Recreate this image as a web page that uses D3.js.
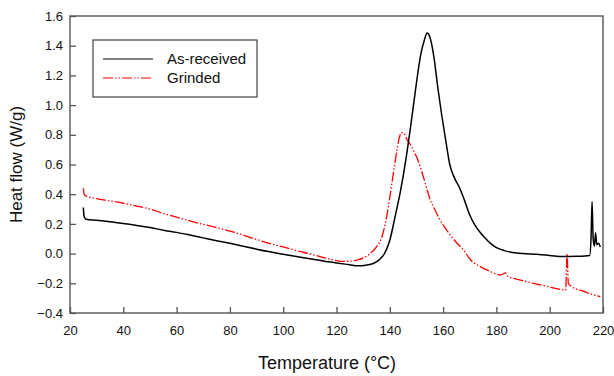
<html>
<head>
<script src="https://d3js.org/d3.v7.min.js"></script>
<style>
  body { margin: 0; background: #fff; }
  text { font-family: "Liberation Sans", Arial, sans-serif; }
</style>
</head>
<body>
<svg id="chart" width="614" height="376"></svg>
<script>
// temperature (°C), heat flow (W/g)
const asReceivedT = [25, 25.3, 26, 30, 35, 40, 45, 50, 55, 60, 65, 70, 75, 80, 85, 90, 95, 100, 105, 110, 115, 120, 125, 128, 131, 134, 136, 138, 140, 142, 144, 146, 148, 150, 151.5, 153, 154, 155, 156.5, 158, 159.5, 161, 162.5, 164, 166, 168, 170, 172, 174, 176, 178, 180, 183, 186, 190, 195, 200, 205, 210, 215, 215.5, 215.9, 216.3, 216.8, 217.2, 217.7, 218.3, 219];
const asReceivedQ = [0.31, 0.25, 0.232, 0.225, 0.215, 0.203, 0.19, 0.175, 0.158, 0.143, 0.125, 0.106, 0.087, 0.069, 0.05, 0.03, 0.012, -0.004, -0.02, -0.035, -0.05, -0.063, -0.075, -0.082, -0.078, -0.065, -0.042, 0.0, 0.09, 0.25, 0.42, 0.63, 0.88, 1.15, 1.33, 1.44, 1.485, 1.46, 1.33, 1.12, 0.93, 0.76, 0.6, 0.52, 0.45, 0.36, 0.26, 0.19, 0.14, 0.1, 0.065, 0.04, 0.02, 0.008, 0.0, -0.005, -0.012, -0.02, -0.018, -0.012, 0.1, 0.35, 0.1, 0.05, 0.14, 0.06, 0.07, 0.045];

const grindedT = [25, 25.3, 26, 30, 35, 40, 45, 50, 55, 60, 65, 70, 75, 80, 85, 90, 95, 100, 105, 110, 116, 122, 126, 128, 131, 133, 135, 137, 138.5, 140, 141.5, 142.7, 143.7, 144.3, 145.3, 146.5, 147.7, 149, 150.2, 151.5, 152.7, 154, 155.2, 156.5, 158.3, 160.5, 162.7, 165, 167.7, 170.2, 174, 177, 181.5, 183.5, 184, 189, 194, 200, 206, 206.5, 207, 208, 212, 216, 219];
const grindedQ = [0.44, 0.40, 0.388, 0.37, 0.355, 0.339, 0.32, 0.30, 0.27, 0.245, 0.22, 0.197, 0.175, 0.152, 0.125, 0.095, 0.068, 0.045, 0.02, -0.002, -0.03, -0.052, -0.05, -0.043, -0.02, 0.005, 0.045, 0.11, 0.22, 0.38, 0.56, 0.70, 0.79, 0.815, 0.81, 0.765, 0.735, 0.69, 0.645, 0.58, 0.51, 0.43, 0.36, 0.31, 0.245, 0.18, 0.125, 0.075, 0.024, -0.04, -0.088, -0.115, -0.144, -0.13, -0.15, -0.178, -0.2, -0.225, -0.245, 0.0, -0.2, -0.22, -0.25, -0.275, -0.29];

const xTicks = [20, 40, 60, 80, 100, 120, 140, 160, 180, 200, 220];
const yTicks = [-0.4, -0.2, 0.0, 0.2, 0.4, 0.6, 0.8, 1.0, 1.2, 1.4, 1.6];
const seriesNames = ["As-received", "Grinded"];

const svg = d3.select("svg#chart");
const margin = {left: 70, right: 11, top: 16, bottom: 63};
const width = +svg.attr("width");
const height = +svg.attr("height");

const x = d3.scaleLinear().domain([20, 220]).range([margin.left, width - margin.right]);
const y = d3.scaleLinear().domain([-0.4, 1.6]).range([height - margin.bottom, margin.top]);

const line = d3.line().curve(d3.curveMonotoneX).x(d => x(d[0])).y(d => y(d[1]));

const black = asReceivedT.map((t, i) => [t, asReceivedQ[i]]);
const red = grindedT.map((t, i) => [t, grindedQ[i]]);

svg.append("path").datum(red)
  .attr("fill", "none").attr("stroke", "#ff0000").attr("stroke-width", 1.3)
  .attr("stroke-dasharray", "10,2,1.5,2,1.5,2")
  .attr("d", line);
svg.append("path").datum(black)
  .attr("fill", "none").attr("stroke", "#000").attr("stroke-width", 1.5)
  .attr("d", line);

// frame
svg.append("rect")
  .attr("x", x(20)).attr("y", y(1.6))
  .attr("width", x(220) - x(20)).attr("height", y(-0.4) - y(1.6))
  .attr("fill", "none").attr("stroke", "#555").attr("stroke-width", 1.4);

const xAxis = svg.append("g")
  .attr("transform", `translate(0,${y(-0.4)})`)
  .call(d3.axisBottom(x).tickValues(xTicks).tickSize(-6).tickPadding(13).tickFormat(d3.format("d")));
const yAxis = svg.append("g")
  .attr("transform", `translate(${x(20)},0)`)
  .call(d3.axisLeft(y).tickValues(yTicks).tickSize(-6).tickPadding(7).tickFormat(d3.format(".1f")));

[xAxis, yAxis].forEach(g => {
  g.select(".domain").remove();
  g.selectAll(".tick line").attr("stroke", "#555").attr("stroke-width", 1.3);
  g.selectAll(".tick text").attr("fill", "#111").style("font-size", "13px")
    .style("font-family", '"Liberation Sans", Arial, sans-serif');
});

svg.append("text")
  .attr("x", 327).attr("y", 369)
  .attr("text-anchor", "middle").style("font-size", "18px").attr("fill", "#111")
  .text("Temperature (°C)");
svg.append("text")
  .attr("transform", `translate(22,${(y(1.6) + y(-0.4)) / 2}) rotate(-90)`)
  .attr("text-anchor", "middle").style("font-size", "17px").attr("fill", "#111")
  .text("Heat flow (W/g)");

// legend
const legend = svg.append("g").attr("transform", "translate(93,40)");
legend.append("rect").attr("width", 164).attr("height", 57)
  .attr("fill", "#fff").attr("stroke", "#444").attr("stroke-width", 1.2);
const styles = [{stroke: "#000", dash: null}, {stroke: "#ff0000", dash: "10,2,1.5,2,1.5,2"}];
seriesNames.forEach((name, i) => {
  const yy = 19 + i * 19;
  legend.append("line").attr("x1", 10).attr("x2", 60).attr("y1", yy).attr("y2", yy)
    .attr("stroke", styles[i].stroke).attr("stroke-width", 1.2)
    .attr("stroke-dasharray", styles[i].dash);
  legend.append("text").attr("x", 74).attr("y", yy + 5)
    .style("font-size", "15px").attr("fill", "#111").text(name);
});
</script>
</body>
</html>
